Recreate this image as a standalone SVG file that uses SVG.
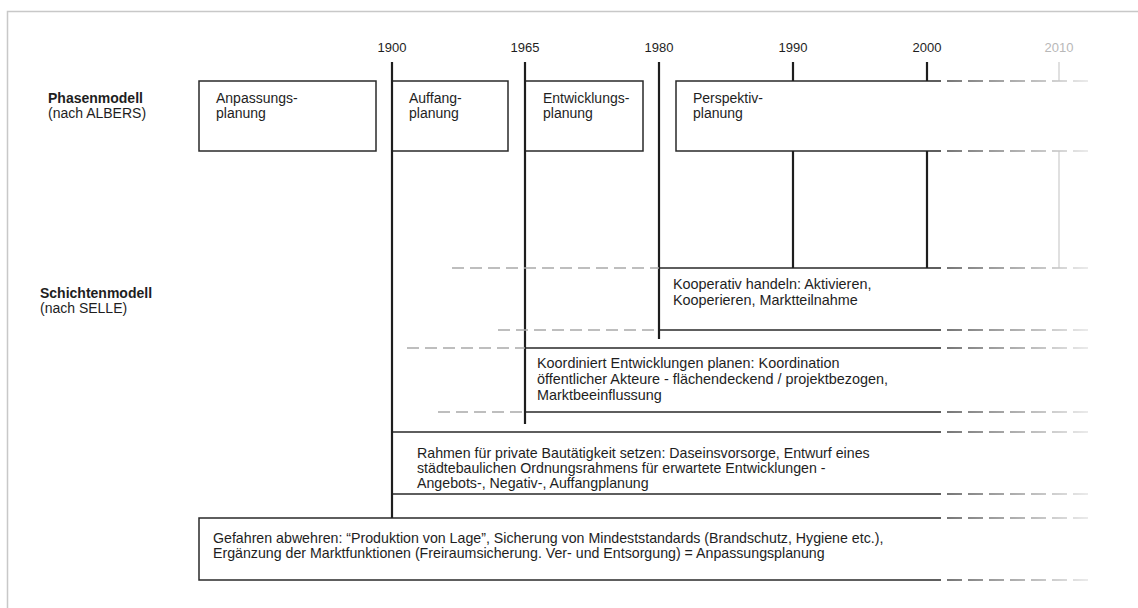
<svg xmlns="http://www.w3.org/2000/svg" width="1138" height="608" viewBox="0 0 1138 608">
  <defs>
    <!-- fading tail for lines that run on past 2000 -->
    <linearGradient id="fade" gradientUnits="userSpaceOnUse" x1="947" y1="0" x2="1088" y2="0">
      <stop offset="0" stop-color="#4a4a4a"/>
      <stop offset="1" stop-color="#e4e4e4"/>
    </linearGradient>
    <style>
      text { font-family: "Liberation Sans", Arial, sans-serif; fill: #1e1e1e; }
      .year { font-size: 13px; text-anchor: middle; }
      .year.future { fill: #b8b8b8; }
      .head { font-size: 14px; font-weight: bold; }
      .sub { font-size: 14px; }
      .lbl { font-size: 14px; }
      .txt { font-size: 14.4px; }
      .small { font-size: 14.2px; }
      .box { fill: #ffffff; stroke: #2a2a2a; stroke-width: 1.5; }
      .edge { stroke: #2a2a2a; stroke-width: 1.5; fill: none; }
      .axis { stroke: #1e1e1e; stroke-width: 2.2; fill: none; }
      .tail { stroke: url(#fade); stroke-width: 1.5; stroke-dasharray: 15 6; fill: none; }
      .lead { stroke: #a9a9a9; stroke-width: 1.5; stroke-dasharray: 12 6; fill: none; }
      .ghost { stroke: #d6d6d6; stroke-width: 1.5; fill: none; }
    </style>
  </defs>

  <rect x="0" y="0" width="1138" height="608" fill="#ffffff"/>
  <!-- outer frame -->
  <rect x="7.5" y="11.5" width="1150" height="620" fill="none" stroke="#c8c8c8" stroke-width="1.5"/>

  <!-- side headings -->
  <g id="label-phasenmodell">
    <text class="head" x="48" y="103">Phasenmodell</text>
    <text class="sub" x="48" y="118">(nach ALBERS)</text>
  </g>
  <g id="label-schichtenmodell">
    <text class="head" x="40" y="298">Schichtenmodell</text>
    <text class="sub" x="40" y="313">(nach SELLE)</text>
  </g>

  <!-- years -->
  <g id="years">
    <text class="year" x="392" y="52">1900</text>
    <text class="year" x="525" y="52">1965</text>
    <text class="year" x="659" y="52">1980</text>
    <text class="year" x="793" y="52">1990</text>
    <text class="year" x="927" y="52">2000</text>
    <text class="year future" x="1059" y="52">2010</text>
  </g>

  <!-- phase model -->
  <g id="phase-anpassung">
    <rect class="box" x="199" y="81" width="177" height="70"/>
    <text class="lbl" x="216" y="103">Anpassungs-</text>
    <text class="lbl" x="216" y="118">planung</text>
  </g>
  <g id="phase-auffang">
    <path class="edge" d="M392 81 H508 V151 H392"/>
    <text class="lbl" x="409" y="103">Auffang-</text>
    <text class="lbl" x="409" y="118">planung</text>
  </g>
  <g id="phase-entwicklung">
    <path class="edge" d="M525 81 H643 V151 H525"/>
    <text class="lbl" x="543" y="103">Entwicklungs-</text>
    <text class="lbl" x="543" y="118">planung</text>
  </g>
  <g id="phase-perspektiv">
    <path class="edge" d="M941 81 H676 V151 H941"/>
    <text class="lbl" x="693" y="103">Perspektiv-</text>
    <text class="lbl" x="693" y="118">planung</text>
  </g>

  <!-- layer model -->
  <g id="layer-kooperativ">
    <path class="edge" d="M659 268 H941 M659 330 H941"/>
    <text class="txt" x="673" y="289">Kooperativ handeln: Aktivieren,</text>
    <text class="txt" x="673" y="305">Kooperieren, Marktteilnahme</text>
  </g>
  <g id="layer-koordiniert">
    <path class="edge" d="M525 348 H941 M525 412 H941"/>
    <text class="txt" x="537" y="368">Koordiniert Entwicklungen planen: Koordination</text>
    <text class="txt" x="537" y="384">öffentlicher Akteure - flächendeckend / projektbezogen,</text>
    <text class="txt" x="537" y="400">Marktbeeinflussung</text>
  </g>
  <g id="layer-rahmen">
    <path class="edge" d="M392 432 H941 M392 494 H941"/>
    <text class="small" x="417" y="458">Rahmen für private Bautätigkeit setzen: Daseinsvorsorge, Entwurf eines</text>
    <text class="small" x="417" y="473">städtebaulichen Ordnungsrahmens für erwartete Entwicklungen -</text>
    <text class="small" x="417" y="488">Angebots-, Negativ-, Auffangplanung</text>
  </g>
  <g id="layer-gefahren">
    <path class="edge" d="M941 518 H199 V580 H941"/>
    <text class="small" x="213" y="543">Gefahren abwehren: “Produktion von Lage”, Sicherung von Mindeststandards (Brandschutz, Hygiene etc.),</text>
    <text class="small" x="213" y="558">Ergänzung der Marktfunktionen (Freiraumsicherung. Ver- und Entsorgung) = Anpassungsplanung</text>
  </g>

  <!-- timeline axes, lead-in dashes and fading tails -->
  <g id="connectors">
    <path class="axis" d="M392 62 V518"/>
    <path class="axis" d="M525 62 V424"/>
    <path class="axis" d="M659 62 V339"/>
    <path class="axis" d="M793 62 V81 M793 151 V268"/>
    <path class="axis" d="M927 62 V81 M927 151 V268"/>
    <path class="ghost" d="M1059 62 V81 M1059 151 V268"/>

    <path class="lead" d="M452 268 H659"/>
    <path class="lead" d="M498 330 H659"/>
    <path class="lead" d="M407 348 H525"/>
    <path class="lead" d="M438 412 H525"/>

    <path class="tail" d="M947 81 H1088"/>
    <path class="tail" d="M947 151 H1088"/>
    <path class="tail" d="M947 268 H1088"/>
    <path class="tail" d="M947 330 H1088"/>
    <path class="tail" d="M947 348 H1088"/>
    <path class="tail" d="M947 412 H1088"/>
    <path class="tail" d="M947 432 H1088"/>
    <path class="tail" d="M947 494 H1088"/>
    <path class="tail" d="M947 518 H1088"/>
    <path class="tail" d="M947 580 H1088"/>
  </g>
</svg>
